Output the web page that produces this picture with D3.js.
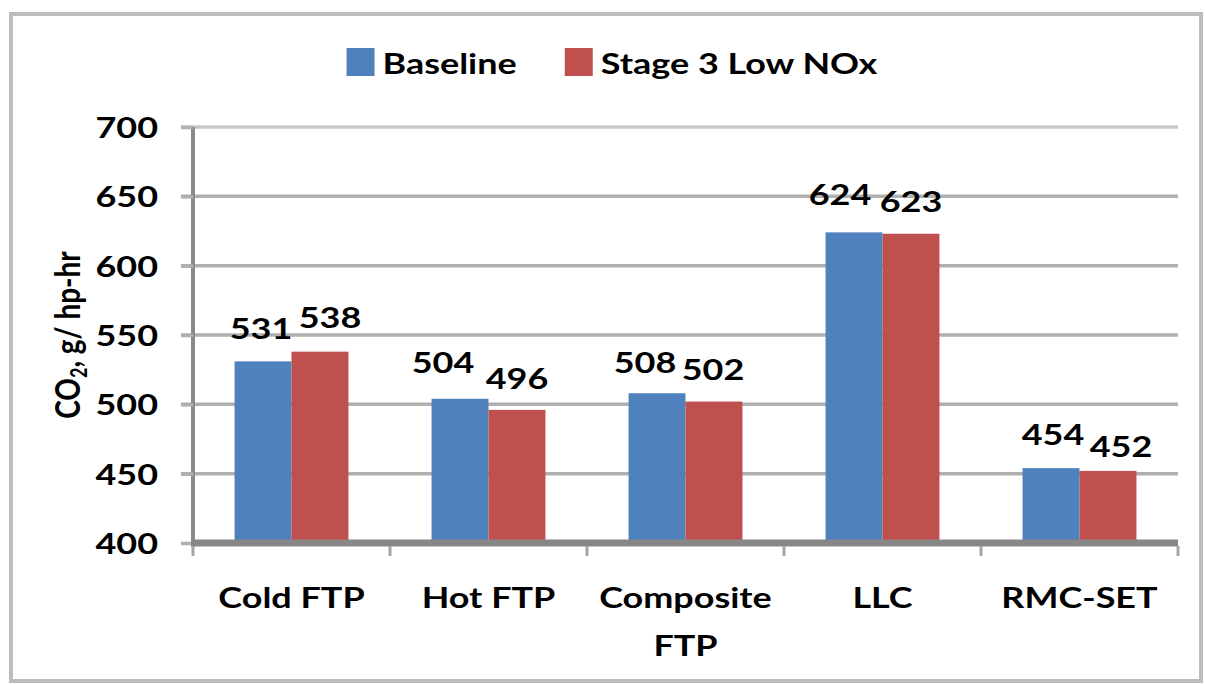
<!DOCTYPE html>
<html>
<head>
<meta charset="utf-8">
<script src="https://cdn.jsdelivr.net/npm/d3@7"></script>
<style>
  body { margin: 0; background: #fff; }
  text { font-family: Lato, "DejaVu Sans", sans-serif; font-weight: 700; fill: #000; }
</style>
</head>
<body>
<svg id="chart" width="1205" height="684"></svg>
<script>
// CO2 emissions per test cycle, g/hp-hr
const categories = ["Cold FTP", "Hot FTP", "Composite FTP", "LLC", "RMC-SET"];
const categoryLines = [["Cold FTP"], ["Hot FTP"], ["Composite", "FTP"], ["LLC"], ["RMC-SET"]];
const seriesNames = ["Baseline", "Stage 3 Low NOx"];
const baselineValues = [531, 504, 508, 624, 454];
const stage3Values = [538, 496, 502, 623, 452];
const yTicks = [400, 450, 500, 550, 600, 650, 700];
const seriesColors = ["#4F81BD", "#C0504D"];

// per-label nudges [dx, dy] so neighbouring value labels don't collide
const labelNudge = [
  [[-2, 0], [10, -2]],
  [[-17, -4], [0, 1]],
  [[-12, 2], [-1, 0]],
  [[-14, -5], [0, 0]],
  [[2, -1], [13, 8]]
];

const W = 1205, H = 684;
const plot = { left: 193, right: 1178, top: 127, bottom: 543 };
const FS = 29;       // font size
const SX = 1.24;     // horizontal text stretch

const svg = d3.select("#chart");

// outer frame
svg.append("rect")
  .attr("x", 11).attr("y", 14).attr("width", 1190).attr("height", 667)
  .attr("fill", "#fff").attr("stroke", "#bdbdbd").attr("stroke-width", 4);

const x = d3.scaleBand().domain(categories).range([plot.left, plot.right]).padding(0);
const xs = d3.scaleBand().domain(seriesNames).range([0, x.bandwidth()])
  .paddingInner(0).paddingOuter(0.73);
const y = d3.scaleLinear().domain([400, 700]).range([plot.bottom, plot.top]);

// gridlines
svg.append("g")
  .selectAll("line").data(yTicks.filter(t => t > 400)).join("line")
  .attr("x1", plot.left - 12).attr("x2", plot.right)
  .attr("y1", d => y(d)).attr("y2", d => y(d))
  .attr("stroke", d => d === 700 ? "#c8c8c8" : "#b0b0b0")
  .attr("stroke-width", 3.5);

// bars
const rows = categories.map((c, i) => ({ cat: c, i, values: [baselineValues[i], stage3Values[i]] }));
const groups = svg.append("g").selectAll("g").data(rows).join("g")
  .attr("transform", d => `translate(${x(d.cat)},0)`);

const cells = d => d.values.map((v, j) => ({ v, s: seriesNames[j], j, n: labelNudge[d.i][j] }));

groups.selectAll("rect").data(cells)
  .join("rect")
  .attr("x", d => xs(d.s))
  .attr("width", xs.bandwidth())
  .attr("y", d => y(d.v))
  .attr("height", d => y(400) - y(d.v))
  .attr("fill", d => seriesColors[d.j]);

// value labels
groups.selectAll("text").data(cells)
  .join("text")
  .attr("text-anchor", "middle")
  .attr("font-size", FS)
  .attr("transform", d => `translate(${xs(d.s) + xs.bandwidth() / 2 + d.n[0]},${y(d.v) - 22 + d.n[1]}) scale(${SX},1)`)
  .text(d => d.v);

// y axis
const yAxis = svg.append("g")
  .attr("transform", `translate(${plot.left},0)`)
  .call(d3.axisLeft(y).tickValues(yTicks).tickSize(12).tickSizeOuter(0));
yAxis.select(".domain").attr("stroke", "#8a8a8a").attr("stroke-width", 4)
  .attr("d", `M0,${plot.top}V${plot.bottom + 4}`);
yAxis.selectAll(".tick line").attr("stroke", "#b0b0b0").attr("stroke-width", 3.5);
yAxis.selectAll(".tick text")
  .attr("x", null).attr("dy", null)
  .attr("font-size", FS).attr("font-family", null)
  .attr("transform", `translate(-35,10.5) scale(${SX},1)`);

// x axis
const xAxis = svg.append("g")
  .attr("transform", `translate(0,${plot.bottom})`)
  .call(d3.axisBottom(x).tickSize(0).tickSizeOuter(0).tickFormat(""));
xAxis.select(".domain").attr("stroke", "#878787").attr("stroke-width", 7)
  .attr("d", `M${plot.left - 2},0H${plot.right}`);
xAxis.selectAll(".tick text").each(function (d) {
  const i = categories.indexOf(d);
  const t = d3.select(this)
    .attr("y", null).attr("dy", null)
    .attr("font-size", FS).attr("font-family", null)
    .attr("transform", `translate(0,65) scale(${SX},1)`)
    .text(null);
  categoryLines[i].forEach((line, k) => {
    t.append("tspan").attr("x", 0).attr("dy", k === 0 ? 0 : 48).text(line);
  });
});

// category boundary ticks
svg.append("g").selectAll("line")
  .data(categories.map(c => x(c)).concat([plot.right]))
  .join("line")
  .attr("x1", d => d).attr("x2", d => d)
  .attr("y1", plot.bottom + 3).attr("y2", plot.bottom + 13)
  .attr("stroke", "#a6a6a6").attr("stroke-width", 3);

// y axis title
const title = svg.append("text")
  .attr("text-anchor", "middle")
  .attr("font-size", 28)
  .attr("transform", `translate(80,${(plot.top + plot.bottom) / 2}) scale(${SX},1) rotate(-90)`);
title.append("tspan").text("CO");
title.append("tspan").attr("font-size", 18).attr("dy", 6).text("2");
title.append("tspan").attr("dy", -6).text(", g/ hp-hr");

// legend
const legend = svg.append("g");
const items = legend.selectAll("g").data(seriesNames).join("g");
items.append("rect").attr("width", 28).attr("height", 28).attr("y", 48)
  .attr("fill", (d, i) => seriesColors[i]);
items.append("text").attr("font-size", FS).text(d => d);
const widths = [];
items.select("text").each(function () { widths.push(this.getComputedTextLength() * SX); });
const sq = 28, gapIn = 8, gapOut = 48;
const total = sq + gapIn + widths[0] + gapOut + sq + gapIn + widths[1];
let lx = 612 - total / 2;
items.each(function (d, i) {
  const g = d3.select(this);
  g.select("rect").attr("x", lx);
  g.select("text").attr("transform", `translate(${lx + sq + gapIn},74) scale(${SX},1)`);
  lx += sq + gapIn + widths[i] + gapOut;
});
</script>
</body>
</html>
